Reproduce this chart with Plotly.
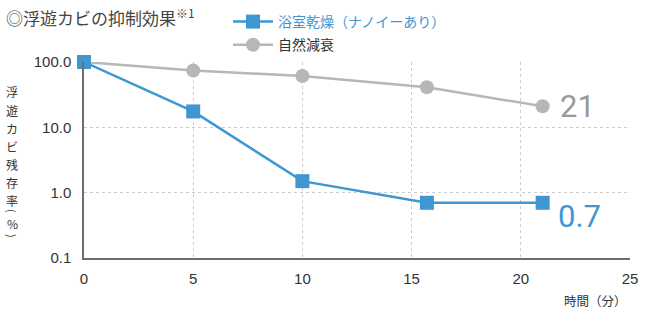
import math
import plotly.graph_objects as go

# Survival rate of airborne mould (%), log scale
minutes = [0, 5, 10, 15.7, 21]
dryer_nanoe = [100, 17.5, 1.5, 0.7, 0.7]
natural_decay = [100, 74, 61, 41, 21]

x_ticks = [0, 5, 10, 15, 20, 25]
y_ticks = [0.1, 1, 10, 100]
y_tick_text = ["0.1", "1.0", "10.0", "100.0"]

BLUE = "#3f97d2"
GRAY = "#b7b7b7"
AXIS = "#726c6c"
TEXT = "#333333"
JP = "Noto Sans CJK JP"
NUM = "Liberation Sans, Noto Sans CJK JP"

W, H = 648, 324
M = dict(l=84, r=18, t=62, b=66)
PLOT_W = W - M["l"] - M["r"]
PLOT_H = H - M["t"] - M["b"]


def px_to_paper(px, py):
    return (px - M["l"]) / PLOT_W, (H - M["b"] - py) / PLOT_H


fig = go.Figure()

fig.add_trace(go.Scatter(
    x=minutes, y=natural_decay, mode="lines+markers",
    name="<span style='color:#333333'>自然減衰</span>",
    line=dict(color=GRAY, width=2.5),
    marker=dict(symbol="circle", size=14, color=GRAY),
    legendgroup="b", legendrank=2, cliponaxis=False,
))
fig.add_trace(go.Scatter(
    x=minutes, y=dryer_nanoe, mode="lines+markers",
    name="<span style='color:%s'>浴室乾燥（ナノイーあり）</span>" % BLUE,
    line=dict(color=BLUE, width=2.5),
    marker=dict(symbol="square", size=14, color=BLUE),
    legendgroup="a", legendrank=1, cliponaxis=False,
))

# invisible carrier for the vertical grid axis
fig.add_trace(go.Scatter(x=[x_ticks[0], x_ticks[-1]], y=[1, 1], xaxis="x2",
                         mode="markers", marker=dict(opacity=0),
                         showlegend=False, hoverinfo="skip"))

# end-of-series value labels
fig.add_annotation(x=minutes[-1], y=math.log10(natural_decay[-1]),
                   text=str(natural_decay[-1]), showarrow=False,
                   xanchor="left", yanchor="middle", xshift=15,
                   font=dict(family="Roboto", size=31, color="#9a9a9a"))
fig.add_annotation(x=minutes[-1], y=math.log10(dryer_nanoe[-1]),
                   text=str(dryer_nanoe[-1]), showarrow=False,
                   xanchor="left", yanchor="middle", xshift=13, yshift=-14,
                   font=dict(family="Roboto", size=31, color=BLUE))

# chart title
tx, ty = px_to_paper(4, 17)
fig.add_annotation(xref="paper", yref="paper", x=tx, y=ty,
                   xanchor="left", yanchor="middle",
                   text="◎浮遊カビの抑制効果<sup>※1</sup>", showarrow=False,
                   font=dict(family=JP, size=17, color="#444444"))

# vertical y-axis title, one character per line; brackets turned sideways
y_title_chars = ["浮", "遊", "カ", "ビ", "残", "存", "率", "(", "%", ")"]
y_title_rows = [92, 110, 128, 146, 164, 182, 200, 211, 223, 236]
y_title_angle = [0, 0, 0, 0, 0, 0, 0, 90, 0, 90]
for ch, row, ang in zip(y_title_chars, y_title_rows, y_title_angle):
    cx, cy = px_to_paper(12, row)
    fig.add_annotation(xref="paper", yref="paper", x=cx, y=cy,
                       xanchor="center", yanchor="middle",
                       text=ch, textangle=ang, showarrow=False,
                       font=dict(family=JP, size=12 if ang == 0 else 11,
                                 color=TEXT))

# x-axis title
ax, ay = px_to_paper(629, 300)
fig.add_annotation(xref="paper", yref="paper", x=ax, y=ay,
                   xanchor="right", yanchor="middle",
                   text="時間（分）", showarrow=False,
                   font=dict(family=JP, size=12.5, color=TEXT))

lx, ly = px_to_paper(228, 6)
fig.update_layout(
    width=W, height=H,
    margin=dict(**M, autoexpand=False),
    paper_bgcolor="white", plot_bgcolor="white",
    font=dict(family=NUM, color=TEXT),
    showlegend=True,
    legend=dict(x=lx, y=ly, xanchor="left", yanchor="top",
                font=dict(family=JP, size=14, color=TEXT),
                bgcolor="rgba(0,0,0,0)", traceorder="grouped",
                tracegroupgap=2, itemwidth=40),
    xaxis=dict(range=[x_ticks[0], x_ticks[-1]], tickvals=x_ticks,
               showgrid=False, zeroline=False,
               showline=True, linecolor=AXIS, linewidth=1.5,
               ticks="", ticklabelstandoff=6,
               tickfont=dict(family=NUM, size=15, color=TEXT)),
    xaxis2=dict(range=[x_ticks[0], x_ticks[-1]], overlaying="x",
                tickvals=x_ticks[1:-1], showticklabels=False,
                showgrid=True, gridcolor="#cccccc", griddash="dot",
                gridwidth=1, zeroline=False, showline=False, ticks=""),
    yaxis=dict(type="log", range=[-1, 2], tickvals=y_ticks,
               ticktext=y_tick_text,
               showgrid=True, gridcolor="#cccccc", griddash="dot",
               gridwidth=1, zeroline=False,
               showline=True, linecolor=AXIS, linewidth=1.5,
               ticks="", ticklabelstandoff=8,
               tickfont=dict(family=NUM, size=15, color=TEXT)),
)

fig.write_html("out.html")
